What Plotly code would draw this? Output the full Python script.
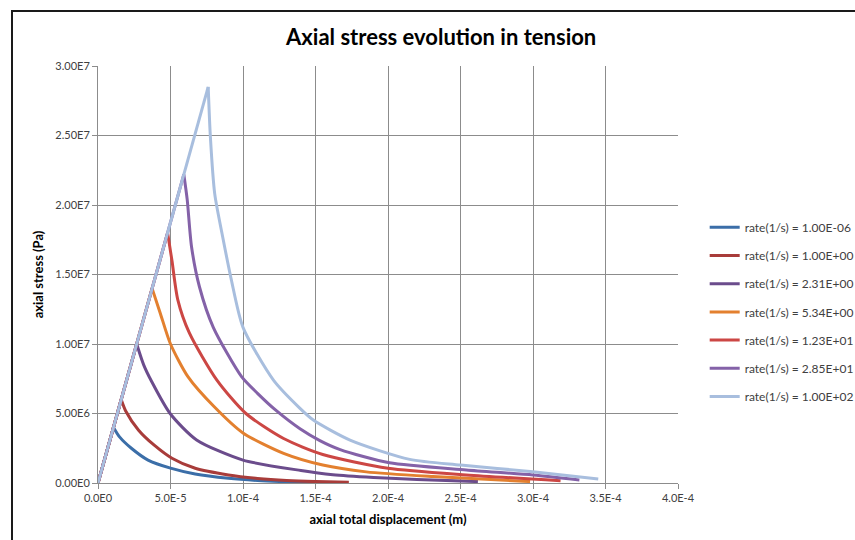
import plotly.graph_objects as go

# ---------------- data ----------------
series_names = [
    "rate(1/s) = 1.00E-06",
    "rate(1/s) = 1.00E+00",
    "rate(1/s) = 2.31E+00",
    "rate(1/s) = 5.34E+00",
    "rate(1/s) = 1.23E+01",
    "rate(1/s) = 2.85E+01",
    "rate(1/s) = 1.00E+02",
]

x_r1 = [0, 1.07e-5, 1.5e-5, 2.3e-5, 3.45e-5, 5.0e-5, 6.7e-5, 9.0e-5, 1.1e-4, 1.3e-4, 1.5e-4]
y_r1 = [0, 4.0e6, 3.3e6, 2.5e6, 1.65e6, 1.07e6, 0.65e6, 0.34e6, 0.18e6, 0.09e6, 0.04e6]

x_r2 = [0, 1.6e-5, 1.9e-5, 2.8e-5, 3.9e-5, 5.1e-5, 6.7e-5, 9.0e-5, 1.1e-4, 1.3e-4, 1.5e-4, 1.73e-4]
y_r2 = [0, 6.0e6, 5.2e6, 3.8e6, 2.7e6, 1.78e6, 1.06e6, 0.58e6, 0.33e6, 0.18e6, 0.1e6, 0.05e6]

x_r3 = [0, 2.67e-5, 3.15e-5, 3.7e-5, 4.97e-5, 6.8e-5, 1.0e-4, 1.4e-4, 1.62e-4, 1.9e-4, 2.2e-4, 2.62e-4]
y_r3 = [0, 1.0e7, 8.5e6, 7.3e6, 5.0e6, 3.1e6, 1.65e6, 0.9e6, 0.6e6, 0.4e6, 0.25e6, 0.1e6]

x_r4 = [0, 3.73e-5, 4.3e-5, 5.0e-5, 6.2e-5, 8.0e-5, 1.0e-4, 1.28e-4, 1.55e-4, 1.85e-4, 2.31e-4, 2.98e-4]
y_r4 = [0, 1.4e7, 1.22e7, 1.0e7, 7.65e6, 5.5e6, 3.6e6, 2.13e6, 1.29e6, 0.8e6, 0.46e6, 0.1e6]

x_r5 = [0, 4.8e-5, 5.1e-5, 5.5e-5, 6.3e-5, 8.2e-5, 1.02e-4, 1.28e-4, 1.55e-4, 2.0e-4, 2.54e-4, 3.19e-4]
y_r5 = [0, 1.8e7, 1.6e7, 1.32e7, 1.08e7, 7.4e6, 5.0e6, 3.2e6, 2.05e6, 1.06e6, 0.58e6, 0.17e6]

x_r6 = [0, 5.92e-5, 6.15e-5, 6.45e-5, 7.0e-5, 7.95e-5, 9.9e-5, 1.1e-4, 1.23e-4, 1.393e-4, 1.53e-4, 1.67e-4, 2.01e-4, 2.54e-4, 3.0e-4, 3.32e-4]
y_r6 = [0, 2.22e7, 2.04e7, 1.70e7, 1.41e7, 1.12e7, 7.65e6, 6.45e6, 5.2e6, 3.9e6, 3.05e6, 2.4e6, 1.45e6, 0.94e6, 0.58e6, 0.22e6]

x_r7 = [0, 7.6e-5, 7.75e-5, 8.05e-5, 8.6e-5, 9.2e-5, 1.0e-4, 1.21e-4, 1.393e-4, 1.485e-4, 1.738e-4, 2.15e-4, 2.5e-4, 3.0e-4, 3.45e-4]
y_r7 = [0, 2.85e7, 2.49e7, 2.08e7, 1.77e7, 1.46e7, 1.12e7, 7.4e6, 5.37e6, 4.53e6, 3.09e6, 1.70e6, 1.29e6, 0.81e6, 0.29e6]

x_tick_vals = [0, 5e-5, 1e-4, 1.5e-4, 2e-4, 2.5e-4, 3e-4, 3.5e-4, 4e-4]
x_tick_text = ["0.0E0", "5.0E-5", "1.0E-4", "1.5E-4", "2.0E-4", "2.5E-4", "3.0E-4", "3.5E-4", "4.0E-4"]
y_tick_vals = [0, 5e6, 1e7, 1.5e7, 2e7, 2.5e7, 3e7]
y_tick_text = ["0.00E0", "5.00E6", "1.00E7", "1.50E7", "2.00E7", "2.50E7", "3.00E7"]

colors = ["#3B6EA8", "#A83C3A", "#6B4C8C", "#E3802F", "#CC4744", "#8462A8", "#A8BEDE"]

xs = [x_r1, x_r2, x_r3, x_r4, x_r5, x_r6, x_r7]
ys = [y_r1, y_r2, y_r3, y_r4, y_r5, y_r6, y_r7]

# ---------------- figure ----------------
FONT = "Lato, 'Open Sans', sans-serif"
fig = go.Figure()
for i, (name, x, y, c) in enumerate(zip(series_names, xs, ys, colors)):
    # elastic branch (straight) up to the peak
    fig.add_trace(go.Scatter(
        x=x[:2], y=y[:2], mode="lines", name=name,
        line=dict(color=c, width=3),
        legendgroup=f"g{i}", showlegend=False, hoverinfo="skip",
    ))
    # softening branch (smoothed) from the peak
    fig.add_trace(go.Scatter(
        x=x[1:], y=y[1:], mode="lines", name=name,
        line=dict(color=c, width=3, shape="spline", smoothing=0.7),
        legendgroup=f"g{i}", showlegend=True,
    ))

grid_c = "#8C8C8C"
fig.update_layout(
    width=855, height=540,
    margin=dict(l=98, r=177, t=66, b=57, autoexpand=False),
    paper_bgcolor="white", plot_bgcolor="white",
    font=dict(family=FONT, size=11, color="#404040"),
    title=dict(text="<b>Axial stress evolution in tension</b>",
               font=dict(family=FONT, size=22, color="#000000"),
               x=0.516, xref="container", xanchor="center",
               y=1 - 37 / 540, yref="container", yanchor="middle"),
    showlegend=True,
    legend=dict(x=1.046, xanchor="left", y=0.648, yanchor="top",
                font=dict(family=FONT, size=12, color="#404040"),
                tracegroupgap=9.2, itemwidth=30,
                bgcolor="rgba(0,0,0,0)"),
    xaxis=dict(range=[0, 4e-4], tickvals=x_tick_vals, ticktext=x_tick_text,
               showgrid=True, gridcolor=grid_c, gridwidth=1,
               showline=True, linecolor=grid_c, linewidth=1, mirror=False,
               ticks="outside", ticklen=5, tickcolor=grid_c,
               zeroline=False,
               title=dict(text="<b>axial total displacement (m)</b>",
                          font=dict(family=FONT, size=13, color="#000000"),
                          standoff=11)),
    yaxis=dict(range=[0, 3e7], tickvals=y_tick_vals, ticktext=y_tick_text,
               showgrid=True, gridcolor=grid_c, gridwidth=1,
               showline=True, linecolor=grid_c, linewidth=1,
               ticks="outside", ticklen=5, tickcolor=grid_c,
               zeroline=False,
               title=dict(text="<b>axial stress (Pa)</b>",
                          font=dict(family=FONT, size=13, color="#000000"),
                          standoff=8)),
)

# outer chart border (extends beyond the visible window)
fig.add_shape(type="rect", xref="paper", yref="paper",
              x0=(12 - 98) / 580, x1=(900 - 98) / 580,
              y0=(483 - 600) / 417, y1=(483 - 11) / 417,
              line=dict(color="#1A1A1A", width=2), layer="below")

fig.write_html("out.html")
